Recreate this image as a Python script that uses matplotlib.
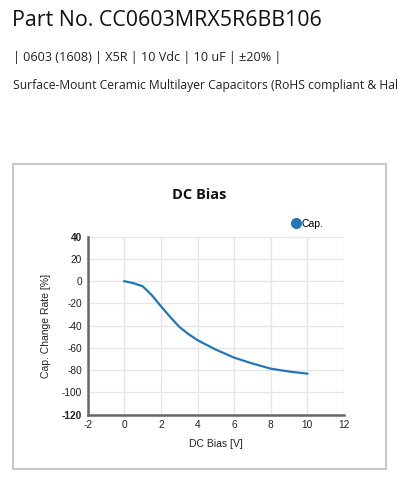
import numpy as np
import matplotlib
matplotlib.use("Agg")
import matplotlib.pyplot as plt
from matplotlib.patches import Rectangle

# header text
part_no = "Part No. CC0603MRX5R6BB106"
spec_line = "| 0603 (1608) | X5R | 10 Vdc | 10 uF | ±20% |"
desc_line = "Surface-Mount Ceramic Multilayer Capacitors (RoHS compliant & Halogen Free)"

# DC bias curve
bias_v = [0, 0.5, 1, 1.5, 2, 2.5, 3, 3.5, 4, 5, 6, 7, 8, 9, 10]
cap_change = [0, -1.8, -4.5, -12.5, -22.5, -32, -41, -47.5, -53, -61.5, -68.7, -74, -78.6, -81.2, -83.1]

x_ticks = [-2, 0, 2, 4, 6, 8, 10, 12]
y_ticks = [-120, -100, -80, -60, -40, -20, 0, 20, 40]

W, H = 398, 480
fig = plt.figure(figsize=(W / 100, H / 100), dpi=100)

# page text above the chart (the last line runs off the page, as in the source)
fig.text(12 / W, 1 - 21 / H, part_no, fontsize=15.4, family="Open Sans",
         color="#111111", va="center", ha="left")
fig.text(13 / W, 1 - 58 / H, spec_line, fontsize=9.1, family="Open Sans",
         color="#222222", va="center", ha="left")
fig.text(13 / W, 1 - 86 / H, desc_line, fontsize=8.75, family="Open Sans",
         color="#222222", va="center", ha="left")

# chart frame
fig.patches.append(Rectangle((13 / W, 1 - 469 / H), (386 - 13) / W, (469 - 164) / H,
                             transform=fig.transFigure, fill=False,
                             edgecolor="#c8c8c8", linewidth=1.5))

fig.text(199.5 / W, 1 - 195 / H, "DC Bias", fontsize=10.5, family="Open Sans",
         weight="bold", color="#111111", ha="center", va="center")

ax = fig.add_axes([87.7 / W, 1 - 414.7 / H, (343.9 - 87.7) / W, (414.7 - 236.7) / H])
line, = ax.plot(bias_v, cap_change, color="#2277b8", linewidth=1.6, label="Cap.")

ax.set_xlim(-2, 12)
ax.set_ylim(-120, 40)
ax.set_xticks(x_ticks)
ax.set_yticks(y_ticks)
ax.set_xticklabels([str(t) for t in x_ticks], family="Liberation Sans", fontsize=7.3, color="#222222")
ax.set_yticklabels([str(t) for t in y_ticks], family="Liberation Sans", fontsize=7.3, color="#222222")
for lbl in (ax.get_yticklabels()[0], ax.get_yticklabels()[-1]):
    lbl.set_weight("bold")
ax.tick_params(length=0, pad=4)

ax.grid(True, color="#e6e6e6", linewidth=1)
ax.set_axisbelow(True)
for s in ("top", "right"):
    ax.spines[s].set_visible(False)
for s in ("left", "bottom"):
    ax.spines[s].set_color("#666666")
    ax.spines[s].set_linewidth(1.8)

ax.set_xlabel("DC Bias [V]", family="Liberation Sans", fontsize=7.5, color="#222222", labelpad=6)
ax.set_ylabel("Cap. Change Rate [%]", family="Liberation Sans", fontsize=7.5, color="#222222", labelpad=8)

# legend: round marker + text
fig.legend(handles=[plt.Line2D([], [], marker="o", linestyle="none", markersize=7,
                               color="#2277b8")],
           labels=["Cap."], loc="center", bbox_to_anchor=(307 / W, 1 - 224 / H),
           frameon=False, handletextpad=0.0, prop={"family": "Liberation Sans", "size": 7.5},
           borderpad=0, handlelength=1.0)

fig.savefig("out.png", dpi=100)
